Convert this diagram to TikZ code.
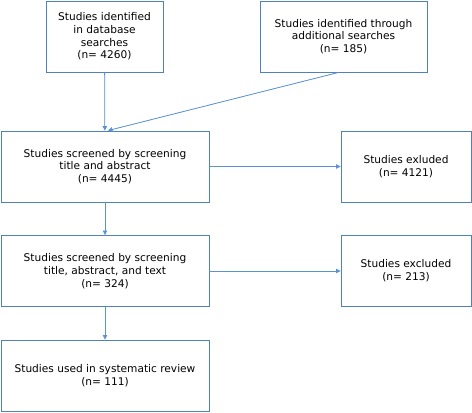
\documentclass[tikz,border=0pt]{standalone}
\usepackage{fontspec}
\setmainfont{DejaVu Sans}
\usepackage{tikz}
\usetikzlibrary{arrows.meta,positioning,calc}
\definecolor{prismaline}{RGB}{79,129,189}
\definecolor{prismaarrow}{RGB}{91,146,210}

\begin{document}
\begin{tikzpicture}[
    x=1pt, y=-1pt,
    box/.style={rectangle, draw=prismaline, line width=0.9pt, align=center, inner sep=2pt,
        font=\fontsize{10.6}{12.7}\selectfont, minimum height=71pt},
    mainbox/.style={box, minimum width=208pt},
    sidebox/.style={box, minimum width=130pt},
    arrow/.style={-{Triangle[width=4.5pt,length=4.5pt]}, draw=prismaarrow, fill=prismaarrow, line width=0.8pt}
]
    \useasboundingbox (0,0) rectangle (472,413);

    % Identification
    \node[box, minimum width=117pt] (db) at (104.5,36.5) {Studies identified\\in database\\searches\\(n= 4260)};
    \node[box, minimum width=167pt] (extra) at (343.5,36.5) {Studies identified through\\additional searches\\(n= 185)};

    % Screening
    \node[mainbox] (screen1) at (105,166.5) {Studies screened by screening\\title and abstract\\(n= 4445)};
    \node[sidebox] (excl1) at (406,166.5) {Studies exluded\\(n= 4121)};

    \node[mainbox] (screen2) at (105,271) {Studies screened by screening\\title, abstract, and text\\(n= 324)};
    \node[sidebox] (excl2) at (406,271) {Studies excluded\\(n= 213)};

    % Included
    \node[mainbox] (review) at (105,375.5) {Studies used in systematic review\\(n= 111)};

    % Arrows
    \draw[arrow] (db) -- (screen1);
    \draw[arrow] ($(extra.south)+(-5,0)$) -- ($(screen1.north)+(3,0)$);
    \draw[arrow] (screen1) -- (excl1);
    \draw[arrow] (screen1) -- (screen2);
    \draw[arrow] (screen2) -- (excl2);
    \draw[arrow] (screen2) -- (review);
\end{tikzpicture}
\end{document}
